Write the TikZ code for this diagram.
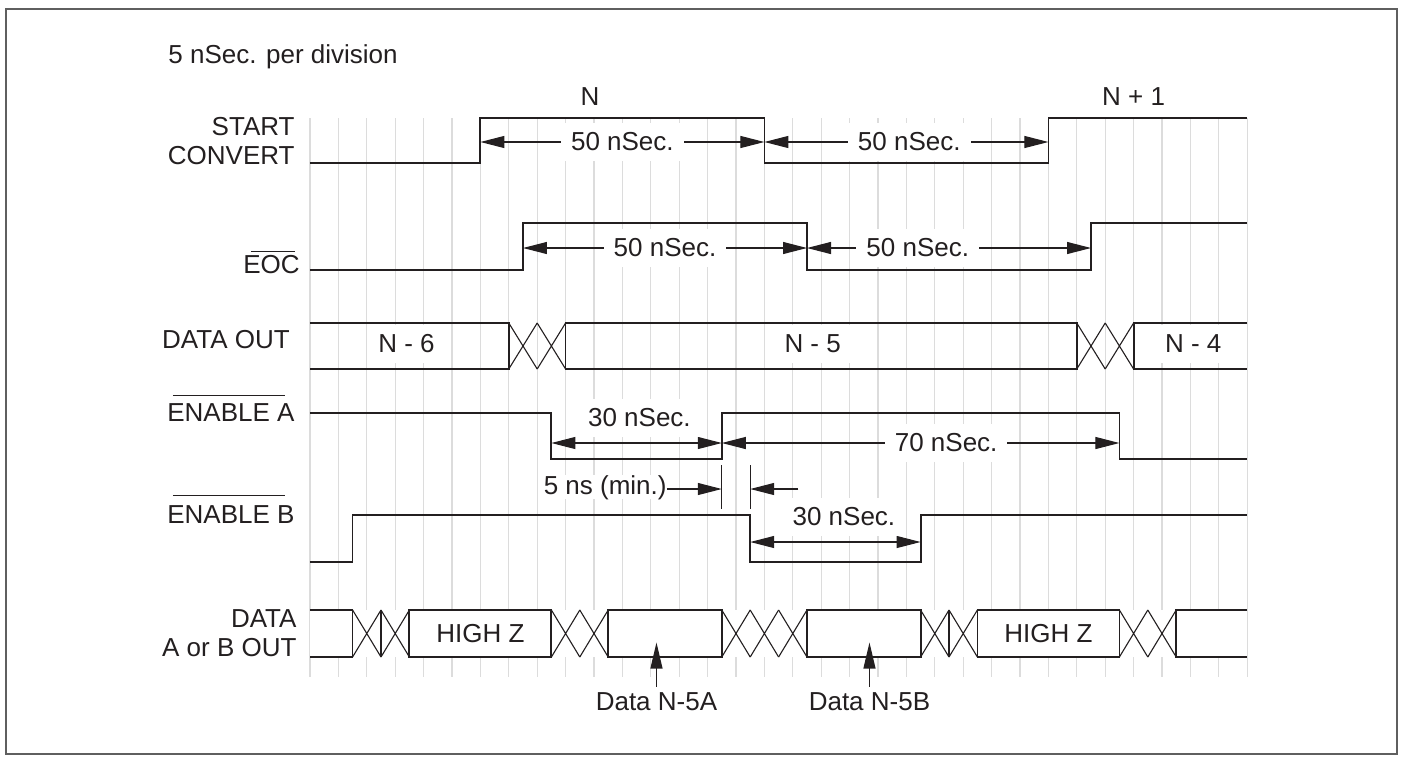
\documentclass[tikz,border=0pt]{standalone}
\usepackage{fontspec}
\setmainfont{Liberation Sans}
\usepackage{tikz}
\usetikzlibrary{arrows.meta,positioning,calc}
\definecolor{tdink}{RGB}{35,31,32}
\definecolor{tdgrid}{RGB}{220,220,220}
\definecolor{tdframe}{RGB}{95,95,95}

\begin{document}
\begin{tikzpicture}[x=14.2pt, y=-0.5pt,
    sig/.style={line width=0.9pt, tdink},
    xing/.style={line width=0.55pt, tdink},
    dim/.style={line width=0.55pt, tdink, {Triangle[length=12pt,width=6pt]}-{Triangle[length=12pt,width=6pt]}},
    dimr/.style={line width=0.55pt, tdink, -{Triangle[length=12pt,width=6pt]}},
    ptr/.style={line width=0.55pt, tdink, -{Triangle[length=13pt,width=6pt]}},
    bar/.style={line width=0.6pt, tdink},
    txt/.style={font=\fontsize{13}{14.5}\selectfont, text=tdink, inner sep=0pt},
    tag/.style={txt, fill=white, inner xsep=5pt, inner ysep=5pt},
    sname/.style={txt, anchor=east, align=right}]
\useasboundingbox (-10.915,0) rectangle (38.486,760);
% one x unit = one division (5 nSec.), y counts down the page

% Frame
\draw[line width=1pt, tdframe] (-10.72,9) rectangle (38.29,754);

% Grid
\foreach \k in {0,...,33}
    \draw[line width=0.6pt, tdgrid] (\k,118) -- (\k,677);
\fill[white] (0,610) rectangle (33,657);

\node[txt, anchor=base west] (title) at (-5,63) {5 nSec. per division};
\node[txt] (cycn) at (9.86,97) {N};
\node[txt] (cycn1) at (29,97) {N + 1};

% Signal names
\node[sname] (nsc) at (-0.53,141) {START\\CONVERT};
\node[sname] (neoc) at (-0.35,265) {EOC};
\node[sname] (ndout) at (-0.7,340) {DATA OUT};
\node[sname] (nena) at (-0.53,413) {ENABLE A};
\node[sname] (nenb) at (-0.53,515) {ENABLE B};
\node[sname] (ndab) at (-0.46,633) {DATA\\A or B OUT};
\draw[bar] ([xshift=4pt,yshift=2pt]neoc.north west) -- ([xshift=-2.5pt,yshift=2pt]neoc.north east);
\draw[bar] ([xshift=3pt,yshift=4pt]nena.north west) -- ([xshift=-5pt,yshift=4pt]nena.north east);
\draw[bar] ([xshift=3pt,yshift=5pt]nenb.north west) -- ([xshift=-5pt,yshift=5pt]nenb.north east);

% Dimension arrows
\foreach \a/\b/\y in {6/16/142, 16/26/142, 7.5/17.5/248, 17.5/27.5/248,
                      8.5/14.5/443, 14.5/28.5/443, 15.5/21.5/542}
    \draw[dim] (\a,\y) -- (\b,\y);

\node[tag] (t50a) at (11,142) {50 nSec.};
\node[tag] (t50b) at (21.1,142) {50 nSec.};
\node[tag] (t50c) at (12.5,248) {50 nSec.};
\node[tag] (t50d) at (21.4,248) {50 nSec.};
\node[tag] (t30a) at (11.6,418) {30 nSec.};
\node[tag] (t70a) at (22.4,443) {70 nSec.};
\node[tag] (t30b) at (18.8,517) {30 nSec.};

% 5 ns (min.) between ENABLE A up and ENABLE B down
\draw[xing] (14.5,465) -- (14.5,509);
\draw[xing] (15.5,465) -- (15.5,509);
\node[txt, anchor=base east, fill=white] (t5ns) at (12.57,494) {5 ns (min.)};
\coordinate (gapl) at (14.5,489);
\coordinate (gapr) at (15.5,489);
\draw[dimr] (t5ns.east |- gapl) -- (gapl);
\draw[dimr] (17.2,489) -- (gapr);

% START CONVERT
\draw[sig] (0,163) -- (6,163) |- (16,118) |- (26,163) |- (33,118);

% EOC
\draw[sig] (0,270) -- (7.5,270) |- (17.5,223) |- (27.5,270) |- (33,223);

% DATA OUT
\draw[sig] (0,323) -| (7,369) -- (0,369);
\draw[sig] (9,323) rectangle (27,369);
\draw[sig] (33,323) -| (29,369) -- (33,369);
\foreach \c in {7,8,27,28}
    \draw[xing] (\c,323) -- (\c+1,369) (\c,369) -- (\c+1,323);
\node[tag] (dn6) at (3.4,344) {N - 6};
\node[tag] (dn5) at (17.7,344) {N - 5};
\node[tag] (dn4) at (31.1,344) {N - 4};

% ENABLE A
\draw[sig] (0,413) -- (8.5,413) |- (14.5,459) |- (28.5,413) |- (33,459);

% ENABLE B
\draw[sig] (0,562) -- (1.5,562) |- (15.5,515) |- (21.5,562) |- (33,515);

% DATA A or B OUT
\draw[sig] (0,610) -| (1.5,657) -- (0,657);
\draw[sig] (2.5,610) -- (2.5,657);
\draw[sig] (3.5,610) rectangle (8.5,657);
\draw[sig] (10.5,610) rectangle (14.5,657);
\draw[sig] (17.5,610) rectangle (21.5,657);
\draw[sig] (22.5,610) -- (22.5,657);
\draw[sig] (23.5,610) rectangle (28.5,657);
\draw[sig] (33,610) -| (30.5,657) -- (33,657);
\foreach \c in {1.5,2.5,8.5,9.5,14.5,15.5,16.5,21.5,22.5,28.5,29.5}
    \draw[xing] (\c,610) -- (\c+1,657) (\c,657) -- (\c+1,610);
\node[txt] (hz1) at (6,634) {HIGH Z};
\node[txt] (hz2) at (26,634) {HIGH Z};

\node[txt] (dna) at (12.2,702) {Data N-5A};
\node[txt] (dnb) at (19.7,702) {Data N-5B};
\draw[ptr] ([yshift=3pt]dna.north) -- ++(0,-44);
\draw[ptr] ([yshift=3pt]dnb.north) -- ++(0,-44);

\end{tikzpicture}
\end{document}
